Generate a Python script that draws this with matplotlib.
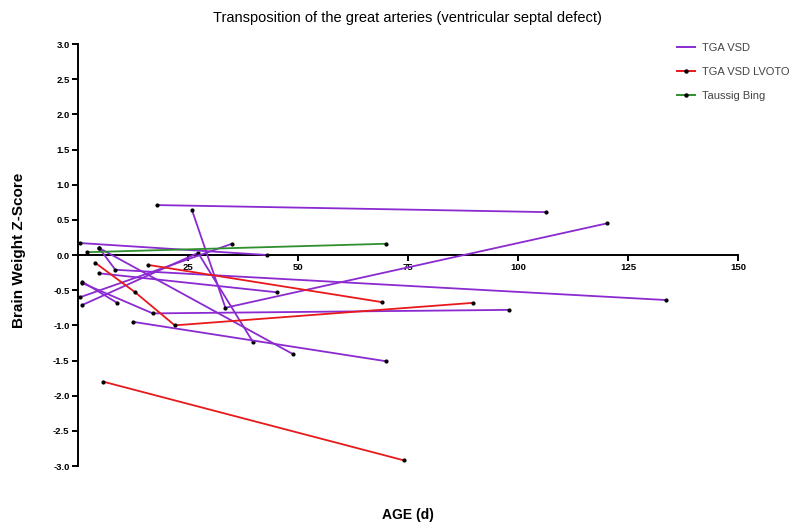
'''
    Brain weight Z-score versus age, transposition of the great arteries
    with ventricular septal defect (one line per patient).
'''
import matplotlib
matplotlib.use('Agg')
import matplotlib.pyplot as plt
from matplotlib.lines import Line2D

# _____________________________________________________________________________
#                               DADOS
# _____________________________________________________________________________
# TGA VSD: idade (dias) e Z-score de cada paciente
TGAVSD_AGE = [
    [18.0, 106.4],
    [25.9, 33.5, 120.2],
    [1.0, 27.3, 39.8],
    [4.8, 8.5, 133.6],
    [4.8, 48.9],
    [0.5, 43.0],
    [0.5, 35.0],
    [1.0, 17.0, 98.0],
    [1.0, 8.9],
    [4.8, 45.2],
    [12.5, 70.0],
]
TGAVSD_Z = [
    [0.71, 0.61],
    [0.64, -0.75, 0.45],
    [-0.71, 0.03, -1.24],
    [0.10, -0.21, -0.64],
    [0.10, -1.41],
    [0.17, 0.00],
    [-0.60, 0.16],
    [-0.40, -0.83, -0.78],
    [-0.38, -0.68],
    [-0.26, -0.53],
    [-0.95, -1.51],
]
# TGA VSD LVOTO
LVOTO_AGE = [
    [3.9, 13.0, 22.0, 89.8],
    [15.9, 69.1],
    [5.7, 74.1],
]
LVOTO_Z = [
    [-0.11, -0.53, -1.00, -0.68],
    [-0.14, -0.67],
    [-1.80, -2.92],
]
# Taussig Bing
TB_AGE = [[2.0, 70.0]]
TB_Z = [[0.04, 0.16]]

LABELS = ['TGA VSD', 'TGA VSD LVOTO', 'Taussig Bing']
XTICKS = [25, 50, 75, 100, 125, 150]
YTICKS = [3.0, 2.5, 2.0, 1.5, 1.0, 0.5, 0.0,
          -0.5, -1.0, -1.5, -2.0, -2.5, -3.0]

# Cores
PURPLE = '#8a2ad0'
RED = '#e8191c'
GREEN = '#2f8f2f'

plt.rcParams['font.family'] = ['Liberation Sans', 'DejaVu Sans']

# _____________________________________________________________________________
#                               Plotando
# _____________________________________________________________________________
fig = plt.figure(figsize=(8.12, 5.27), dpi=100)
ax = fig.add_axes((0.096, 0.1157, 0.813, 0.8008))

groups = [(TGAVSD_AGE, TGAVSD_Z, PURPLE),
          (LVOTO_AGE, LVOTO_Z, RED),
          (TB_AGE, TB_Z, GREEN)]
for ages, zs, color in groups:
    for age, z in zip(ages, zs):
        ax.plot(age, z, color=color, linewidth=1.3,
                marker='o', markersize=2.0,
                markerfacecolor='black', markeredgecolor='black',
                zorder=3)

ax.set_xlim(0, 150)
ax.set_ylim(-3.0, 3.0)

ax.spines['top'].set_visible(False)
ax.spines['right'].set_visible(False)
ax.spines['bottom'].set_position(('data', 0))
ax.spines['bottom'].set_linewidth(1.4)
ax.spines['left'].set_linewidth(1.4)
ax.spines['bottom'].set_zorder(2)

ax.set_xticks(XTICKS)
ax.set_xticklabels([str(t) for t in XTICKS])
ax.set_yticks(YTICKS)
ax.set_yticklabels(['{:.1f}'.format(t).replace('\u2212', '-') for t in YTICKS])
ax.tick_params(axis='both', direction='out', length=4, width=1.4,
               labelsize=6.8, pad=2)
for lab in ax.get_xticklabels() + ax.get_yticklabels():
    lab.set_fontweight('bold')

fig.text(0.502, 0.966,
         'Transposition of the great arteries (ventricular septal defect)',
         ha='center', va='center', fontsize=10.5, color='black')
fig.text(0.024, 0.525, 'Brain Weight Z-Score', rotation=90,
         ha='center', va='center', fontsize=11, fontweight='bold')
fig.text(0.502, 0.023, 'AGE (d)', ha='center', va='center',
         fontsize=10, fontweight='bold')

handles = [
    Line2D([], [], color=PURPLE, linewidth=1.4),
    Line2D([], [], color=RED, linewidth=1.4, marker='o', markersize=2.2,
           markerfacecolor='black', markeredgecolor='black'),
    Line2D([], [], color=GREEN, linewidth=1.4, marker='o', markersize=2.2,
           markerfacecolor='black', markeredgecolor='black'),
]
leg = fig.legend(handles, LABELS, loc='upper left',
                 bbox_to_anchor=(0.822, 0.937), frameon=False,
                 fontsize=8, labelspacing=1.25, handlelength=1.6,
                 handletextpad=0.6)
for t in leg.get_texts():
    t.set_color('#444444')

fig.savefig('out.png', dpi=100)
plt.close()
